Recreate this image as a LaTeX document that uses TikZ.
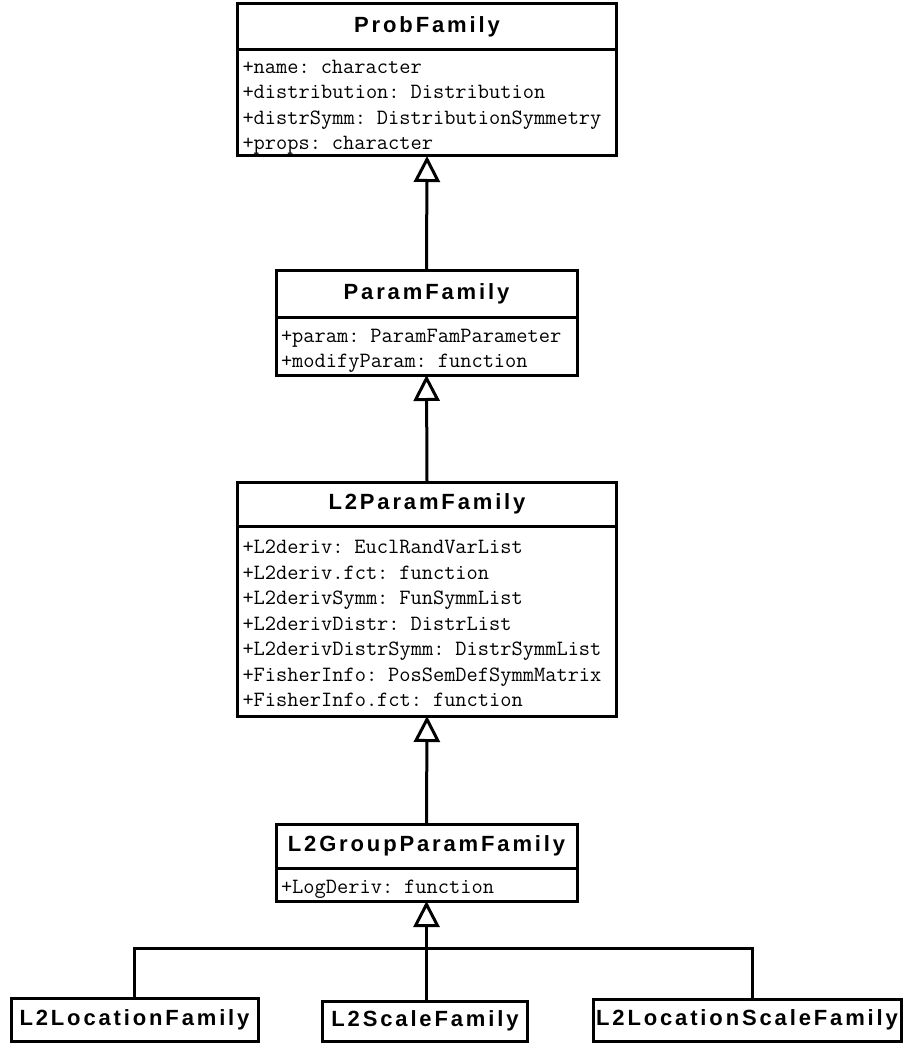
\documentclass[tikz,border=0pt]{standalone}
\usepackage{fontspec}
\setmainfont{Liberation Sans}
\newfontfamily\titlefont[LetterSpace=13]{Liberation Sans}
\usetikzlibrary{arrows.meta}

\begin{document}
\begin{tikzpicture}[x=1pt, y=-1pt,
    classname/.style={draw, line width=3pt, outer sep=0pt, inner sep=0pt, text height=16pt, text depth=4.9pt, font=\titlefont\bfseries\fontsize{22}{26}\selectfont},
    attrbox/.style={draw, line width=3pt, outer sep=0pt, anchor=north, inner xsep=5pt, inner ysep=0pt, align=left, font=\ttfamily\fontsize{21.8}{25.5}\selectfont,
        execute at begin node={\baselineskip=25.5pt\lineskiplimit=-30pt\rule{0pt}{23pt}},
        execute at end node={\rule[-5pt]{0pt}{5pt}}},
    inherit/.style={line width=3pt, -{Triangle[open, length=26pt, width=26pt]}},
    link/.style={line width=3pt}
]
\useasboundingbox (0,0) rectangle (904,1043);

% Nodes
\node[classname, minimum width=379pt, minimum height=46pt] (prob) at (427,26.5) {ProbFamily};
\node[attrbox, minimum width=379pt, text width=369pt, minimum height=106.5pt] (probattr) at (prob.south)
    {+name: character\\+distribution: Distribution\\+distrSymm: DistributionSymmetry\\+props: character};

\node[classname, minimum width=301pt, minimum height=47pt] (param) at (426.5,293.5) {ParamFamily};
\node[attrbox, minimum width=301pt, text width=291pt, minimum height=58pt] (paramattr) at (param.south)
    {+param: ParamFamParameter\\+modifyParam: function};

\node[classname, minimum width=379pt, minimum height=44pt] (ltwo) at (427,504) {L2ParamFamily};
\node[attrbox, minimum width=379pt, text width=369pt, minimum height=190pt] (ltwoattr) at (ltwo.south)
    {+L2deriv: EuclRandVarList\\+L2deriv.fct: function\\+L2derivSymm: FunSymmList\\+L2derivDistr: DistrList\\+L2derivDistrSymm: DistrSymmList\\+FisherInfo: PosSemDefSymmMatrix\\+FisherInfo.fct: function};

\node[classname, minimum width=301pt, minimum height=44pt] (group) at (426.5,846) {L2GroupParamFamily};
\node[attrbox, minimum width=301pt, text width=291pt, minimum height=33pt] (groupattr) at (group.south)
    {+LogDeriv: function};

\node[classname, minimum width=247pt, minimum height=43pt] (loc) at (134.5,1019.5) {L2LocationFamily};
\node[classname, minimum width=205pt, minimum height=40pt] (scale) at (425,1021) {L2ScaleFamily};
\node[classname, minimum width=308pt, minimum height=42pt] (locscale) at (747,1020) {L2LocationScaleFamily};

\coordinate (bar) at (426.5,948);

% Edges
\draw[inherit] (param.north) -- (probattr.south);
\draw[inherit] (ltwo.north) -- (paramattr.south);
\draw[inherit] (group.north) -- (ltwoattr.south);
\draw[inherit] (scale.north -| groupattr.south) -- (groupattr.south);
\draw[link] (loc.north) |- (bar) -| ([xshift=5pt]locscale.north);

\end{tikzpicture}
\end{document}
